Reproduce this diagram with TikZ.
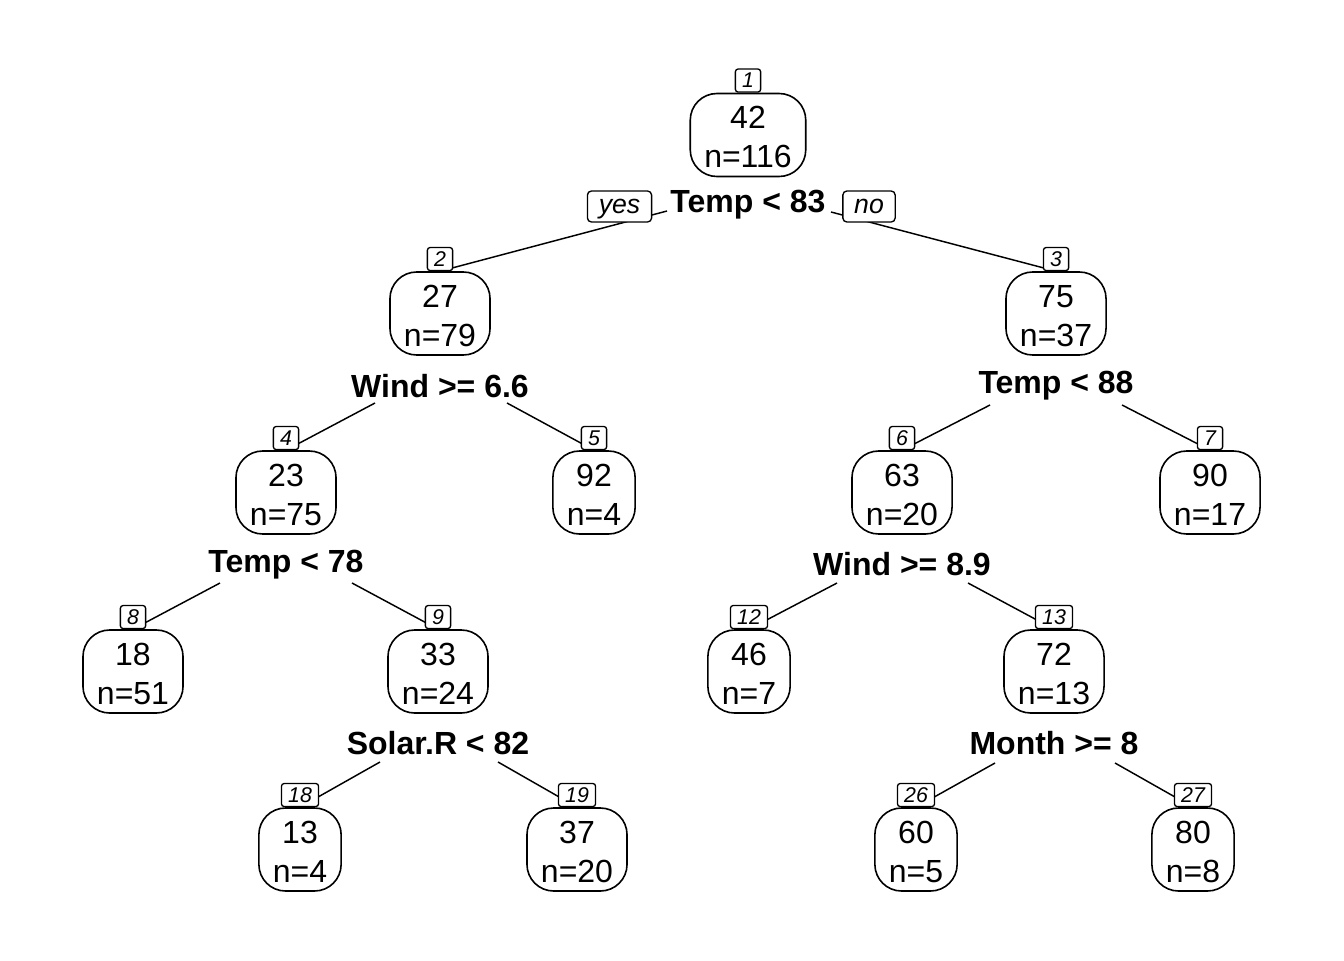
\documentclass[tikz,border=0pt]{standalone}
\usepackage{fontspec}
\setmainfont{Liberation Sans}
\usetikzlibrary{backgrounds}
\newcommand{\valtext}[2]{\rule{0pt}{20pt}#1\\#2}
\begin{document}
\begin{tikzpicture}[x=0.75pt,y=-0.75pt,
  val/.style={draw, fill=white, line width=1.2pt, rounded corners=20pt, align=center,
    font=\fontsize{24}{29.25}\selectfont, inner xsep=10.5pt, inner ysep=0pt, minimum height=62.25pt},
  nid/.style={draw, fill=white, line width=1pt, rounded corners=2pt,
    font=\fontsize{16}{16}\selectfont\itshape, inner xsep=5pt, inner ysep=0pt,
    minimum height=17.25pt, anchor=south},
  split/.style={font=\fontsize{24}{24}\selectfont\bfseries, anchor=base, inner sep=0pt},
  yn/.style={draw, fill=white, line width=1pt, rounded corners=3pt,
    font=\fontsize{20}{20}\selectfont\itshape, inner xsep=8.5pt, inner ysep=0pt,
    minimum height=23.25pt, text height=10.4pt, text depth=0pt},
  branch/.style={line width=1.1pt}]
\useasboundingbox (0,0) rectangle (1344,960);

% value boxes
\node[val] (v1)  at (748,135)   {\valtext{42}{n=116}};
\node[val] (v2)  at (440,313.5) {\valtext{27}{n=79}};
\node[val] (v3)  at (1056,313.5){\valtext{75}{n=37}};
\node[val] (v4)  at (286,492.5) {\valtext{23}{n=75}};
\node[val] (v5)  at (594,492.5) {\valtext{92}{n=4}};
\node[val] (v6)  at (902,492.5) {\valtext{63}{n=20}};
\node[val] (v7)  at (1210,492.5){\valtext{90}{n=17}};
\node[val] (v8)  at (133,671.5) {\valtext{18}{n=51}};
\node[val] (v9)  at (438,671.5) {\valtext{33}{n=24}};
\node[val] (v12) at (749,671.5) {\valtext{46}{n=7}};
\node[val] (v13) at (1054,671.5){\valtext{72}{n=13}};
\node[val] (v18) at (300,849.5) {\valtext{13}{n=4}};
\node[val] (v19) at (577,849.5) {\valtext{37}{n=20}};
\node[val] (v26) at (916,849.5) {\valtext{60}{n=5}};
\node[val] (v27) at (1193,849.5){\valtext{80}{n=8}};

% node ids
\node[nid] (i1)  at (v1.north)  {1};
\node[nid] (i2)  at (v2.north)  {2};
\node[nid] (i3)  at (v3.north)  {3};
\node[nid] (i4)  at (v4.north)  {4};
\node[nid] (i5)  at (v5.north)  {5};
\node[nid] (i6)  at (v6.north)  {6};
\node[nid] (i7)  at (v7.north)  {7};
\node[nid] (i8)  at (v8.north)  {8};
\node[nid] (i9)  at (v9.north)  {9};
\node[nid] (i12) at (v12.north) {12};
\node[nid] (i13) at (v13.north) {13};
\node[nid] (i18) at (v18.north) {18};
\node[nid] (i19) at (v19.north) {19};
\node[nid] (i26) at (v26.north) {26};
\node[nid] (i27) at (v27.north) {27};

% split labels
\node[split] (s1)  at (748,212)  {Temp < 83};
\node[split] (s2)  at (440,397)  {Wind >= 6.6};
\node[split] (s3)  at (1056,393) {Temp < 88};
\node[split] (s4)  at (286,572)  {Temp < 78};
\node[split] (s6)  at (902,575)  {Wind >= 8.9};
\node[split] (s9)  at (438,754)  {Solar.R < 82};
\node[split] (s13) at (1054,754) {Month >= 8};

% yes / no
\node[yn] (yes) at (619.5,206.5) {yes};
\node[yn] (no)  at (869,206.5)   {no};

% branch start points
\coordinate (b1L)  at (667,211);  \coordinate (b1R)  at (831,212);
\coordinate (b2L)  at (375,403);  \coordinate (b2R)  at (507,403);
\coordinate (b3L)  at (990,405);  \coordinate (b3R)  at (1122,405);
\coordinate (b4L)  at (220,583);  \coordinate (b4R)  at (352,583);
\coordinate (b6L)  at (837,583);  \coordinate (b6R)  at (968,583);
\coordinate (b9L)  at (380,762);  \coordinate (b9R)  at (498,762);
\coordinate (b13L) at (995,763);  \coordinate (b13R) at (1115,763);

\begin{pgfonlayer}{background}
\draw[branch] (b1L) -- (v2.north);
\draw[branch] (b1R) -- (v3.north);
\draw[branch] (b2L) -- (v4.north);
\draw[branch] (b2R) -- (v5.north);
\draw[branch] (b3L) -- (v6.north);
\draw[branch] (b3R) -- (v7.north);
\draw[branch] (b4L) -- (v8.north);
\draw[branch] (b4R) -- (v9.north);
\draw[branch] (b6L) -- (v12.north);
\draw[branch] (b6R) -- (v13.north);
\draw[branch] (b9L) -- (v18.north);
\draw[branch] (b9R) -- (v19.north);
\draw[branch] (b13L) -- (v26.north);
\draw[branch] (b13R) -- (v27.north);
\end{pgfonlayer}
\end{tikzpicture}
\end{document}
